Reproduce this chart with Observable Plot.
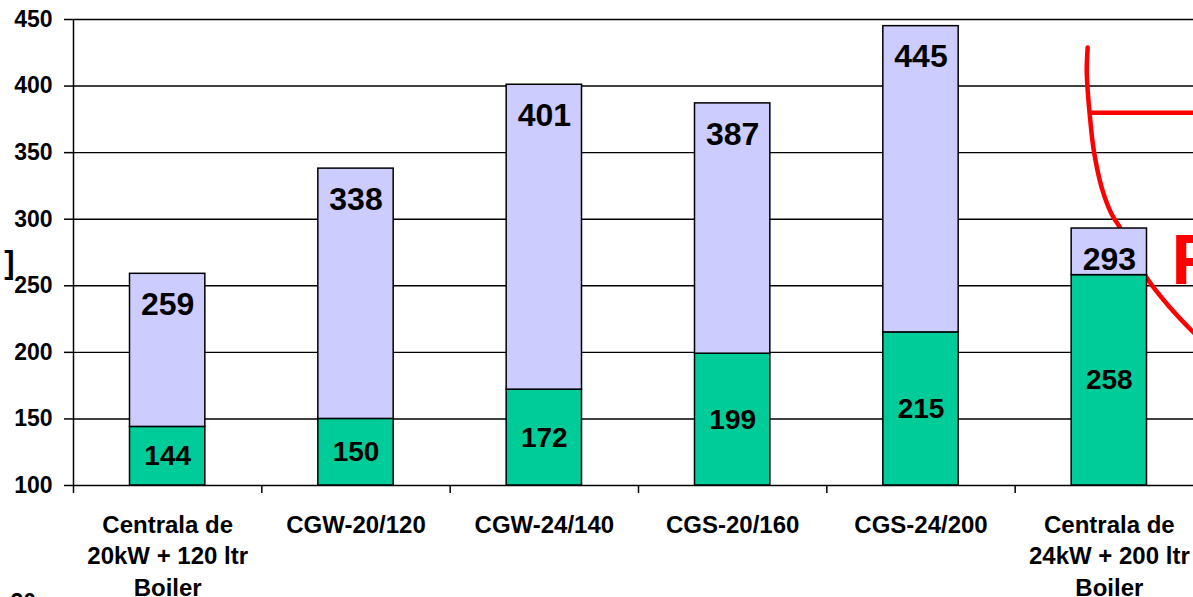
<!DOCTYPE html>
<html>
<head>
<meta charset="utf-8">
<script src="https://cdn.jsdelivr.net/npm/d3@7"></script>
<script src="https://cdn.jsdelivr.net/npm/@observablehq/plot@0.6"></script>
<style>
  html, body { margin: 0; padding: 0; background: #fff; overflow: hidden; }
  #chart svg { display: block; }
</style>
</head>
<body>
<div id="chart"></div>
<script>
// ---- data ----
const categories = [
  "Centrala de\n20kW + 120 ltr\nBoiler",
  "CGW-20/120",
  "CGW-24/140",
  "CGS-20/160",
  "CGS-24/200",
  "Centrala de\n24kW + 200 ltr\nBoiler"
];
const greenValues = [144, 150, 172, 199, 215, 258];
const totalValues = [259, 338, 401, 387, 445, 293];
const yTicks = [100, 150, 200, 250, 300, 350, 400, 450];
const categoryEdges = [0, 1, 2, 3, 4, 5, 6];

// red annotation (partially visible stamp), read in data units
const arcX = [5.385, 5.380, 5.385, 5.395, 5.417, 5.459, 5.512, 5.560, 5.629, 5.698, 5.814, 5.947, 6.0];
const arcY = [429, 412, 397, 380, 352, 324, 304, 293, 274, 256, 235, 215, 208];
const redBarY = [380];
const redText = ["R"];
const cutLabelLeft = ["]"];
const cutLabelBottom = ["20"];

const data = categories.map((c, i) => ({i, c, green: greenValues[i], total: totalValues[i]}));
const arc = arcX.map((x, k) => ({x, y: arcY[k]}));

const font = "'Liberation Sans', Arial, sans-serif";

const chart = Plot.plot({
  width: 1204,
  height: 597,
  marginTop: 19,
  marginBottom: 112,
  marginLeft: 73,
  marginRight: 1,
  x: {type: "linear", domain: [0, 6], axis: null, label: null},
  y: {domain: [100, 450], axis: null, label: null},
  style: {fontFamily: font, fontWeight: "bold", fontSize: "23px", maxWidth: "none", background: "#fff", color: "#000", overflow: "hidden"},
  marks: [
    Plot.gridY(yTicks, {stroke: "#000", strokeOpacity: 1, strokeWidth: 1.4}),
    Plot.line(arc, {x: "x", y: "y", stroke: "#ff0000", strokeWidth: 4.5, strokeLinecap: "round", curve: "catmull-rom", clip: true}),
    Plot.ruleY(redBarY, {x1: 5.4, x2: 6, stroke: "#ff0000", strokeWidth: 4.5}),
    Plot.rectY(data, {x1: d => d.i + 0.3, x2: d => d.i + 0.7, y1: 100, y2: "green", fill: "#00CC99", stroke: "#000", strokeWidth: 1.5}),
    Plot.rectY(data, {x1: d => d.i + 0.3, x2: d => d.i + 0.7, y1: "green", y2: "total", fill: "#CCCCFF", stroke: "#000", strokeWidth: 1.5}),
    Plot.ruleX([0], {y1: 100, y2: 450, stroke: "#000", strokeWidth: 1.5}),
    Plot.axisY(yTicks, {tickSize: 9, tickPadding: 12, fontSize: 23, fontWeight: "bold", strokeWidth: 1.5, label: null}),
    Plot.axisX(categoryEdges, {tickSize: 8, tickFormat: () => "", strokeWidth: 1.5, label: null}),
    // value labels
    Plot.text(data, {x: d => d.i + 0.5, y: "total", text: d => String(d.total), dy: 31, lineAnchor: "middle", fontSize: 32, fontWeight: "bold"}),
    Plot.text(data, {x: d => d.i + 0.5, y: d => (d.green + 100) / 2, text: d => String(d.green), lineAnchor: "middle", fontSize: 28, fontWeight: "bold"}),
    // category labels
    Plot.text(data, {x: d => d.i + 0.5, text: "c", frameAnchor: "bottom", dy: 25, lineAnchor: "top", lineHeight: 1.31, fontSize: 24, fontWeight: "bold"}),
    // red stamp letter
    Plot.text(redText, {x: 5.83, y: 251.7, text: d => d, textAnchor: "start", lineAnchor: "bottom", fontSize: 70, fontWeight: "bold", fill: "#ff0000"}),
    // cut-off texts at the left
    Plot.text(cutLabelLeft, {y: 259.9, frameAnchor: "left", dx: -59, text: d => d, textAnchor: "end", lineAnchor: "bottom", fontSize: 31, fontWeight: "bold"}),
    Plot.text(cutLabelBottom, {frameAnchor: "bottom-left", dx: -63, dy: 108, text: d => d, textAnchor: "start", lineAnchor: "top", fontSize: 23, fontWeight: "bold"})
  ]
});
document.getElementById("chart").appendChild(chart);
</script>
</body>
</html>
